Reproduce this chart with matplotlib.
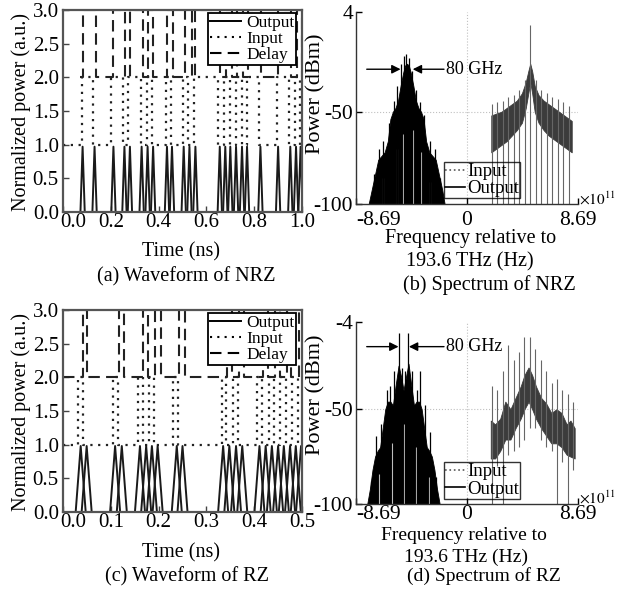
import matplotlib
matplotlib.use('Agg')
import matplotlib.pyplot as plt
import matplotlib.transforms as mtransforms
from matplotlib.lines import Line2D

plt.rcParams['font.family'] = ['Liberation Serif', 'DejaVu Serif']
plt.rcParams['mathtext.fontset'] = 'stix'
plt.rcParams['axes.unicode_minus'] = False

W, H = 622, 597

# ---------------- waveform data (ns) ----------------
# (a) NRZ: output pulse centres, input / delay transition times
a_out_t = [0.082, 0.132, 0.211, 0.257, 0.280, 0.329, 0.354, 0.377, 0.435, 0.456,
           0.505, 0.529, 0.554, 0.656, 0.679, 0.700, 0.724, 0.749, 0.770, 0.826,
           0.900, 0.951, 0.975, 0.994]
a_in_edges = [0.078, 0.127, 0.201, 0.250, 0.273, 0.325, 0.350, 0.371, 0.431, 0.452,
              0.501, 0.524, 0.550, 0.650, 0.674, 0.699, 0.722, 0.748, 0.768, 0.820,
              0.894, 0.947, 0.971, 0.992]
a_dl_start = 0.07
a_dl_edges = [0.083, 0.138, 0.211, 0.259, 0.281, 0.336, 0.357, 0.378, 0.434, 0.462,
              0.510, 0.538, 0.553, 0.657, 0.681, 0.706, 0.729, 0.755, 0.775, 0.827,
              0.901, 0.954, 0.978, 0.999]

# (c) RZ: output pulse centres, input / delay pulse start & end
c_out_t = [0.037, 0.0495, 0.109, 0.123, 0.161, 0.174, 0.186, 0.198, 0.238, 0.250,
           0.335, 0.348, 0.362, 0.375, 0.411, 0.424, 0.437, 0.450, 0.462, 0.475,
           0.487, 0.498]
c_in_start = [0.032, 0.105, 0.156, 0.179, 0.231, 0.332, 0.355, 0.405, 0.430, 0.454, 0.480]
c_in_end = [0.041, 0.116, 0.167, 0.190, 0.241, 0.342, 0.367, 0.417, 0.442, 0.467, 0.492]
c_dl_start = [0.041, 0.117, 0.168, 0.192, 0.243, 0.343, 0.368, 0.418, 0.443, 0.468, 0.493]
c_dl_end = [0.050, 0.128, 0.178, 0.204, 0.255, 0.353, 0.378, 0.428, 0.453, 0.478, 0.503]

# ---------------- spectrum data (x1e11 Hz, dBm) ----------------
b_out_f = [-7.7, -7.45, -7.2, -6.95, -6.7, -6.45, -6.2, -6.0, -5.8, -5.6, -5.4, -5.2,
           -5.0, -4.85, -4.7, -4.55, -4.4, -4.2, -4.0, -3.8, -3.6, -3.4, -3.2, -2.95,
           -2.7, -2.45, -2.2, -1.95, -1.75]
b_out_p = [-100, -92, -84, -76, -74, -72, -66, -54, -50, -48, -44, -36, -29, -25, -24,
           -25, -29, -36, -44, -48, -50, -54, -66, -72, -74, -76, -84, -92, -100]
b_spk_f = [-7.3, -6.9, -6.55, -6.1, -5.75, -5.45, -5.15, -4.95, -4.75, -4.55, -4.3,
           -4.0, -3.7, -3.35, -2.9, -2.5, -2.1]
b_spk_p = [-84, -70, -66, -56, -44, -36, -24, -20, -19, -21, -28, -38, -45, -52, -66,
           -70, -86]
b_gap_f = [-6.6, -5.5, -5.0, -4.2, -3.6, -2.9]
b_gap_p = [-86, -70, -62, -60, -72, -88]
b_in_f = [1.9, 2.3, 2.7, 3.1, 3.5, 3.9, 4.3, 4.6, 4.8, 4.95, 5.1, 5.3, 5.6, 6.0, 6.4,
          6.8, 7.2, 7.6, 8.0, 8.2]
b_in_hi = [-52, -51, -50, -48, -46, -44, -40, -34, -28, -24, -28, -36, -41, -44, -46,
           -48, -50, -52, -54, -55]
b_in_lo = [-72, -70, -68, -66, -63, -60, -56, -48, -40, -34, -40, -50, -56, -60, -63,
           -65, -67, -69, -71, -72]
b_comb_f = [1.95, 2.38, 2.81, 3.24, 3.67, 4.1, 4.53, 4.97, 5.4, 5.83, 6.26, 6.69, 7.12,
            7.55, 7.98]
b_comb_top = [-46, -45, -44, -42, -41, -38, -33, -3, -33, -38, -40, -42, -43, -45, -47]
b_comb_bot = [-100] * 15

d_out_f = [-7.81, -7.6, -7.4, -7.2, -7.0, -6.8, -6.6, -6.4, -6.2, -6.0, -5.8, -5.6,
           -5.36, -5.15, -4.97, -4.78, -4.58, -4.35, -4.15, -3.95, -3.75, -3.55, -3.35,
           -3.15, -2.95, -2.75, -2.55, -2.35, -2.14]
d_out_p = [-100, -92, -82, -75, -72, -70, -60, -50, -46, -46, -48, -38, -27, -33, -40,
           -33, -26, -38, -48, -46, -46, -50, -60, -70, -72, -75, -82, -92, -100]
d_spk_f = [-7.55, -7.1, -6.7, -6.3, -6.05, -5.7, -5.36, -5.1, -4.85, -4.58, -4.3, -3.9,
           -3.65, -3.3, -2.9, -2.45]
d_spk_p = [-88, -64, -58, -40, -38, -30, -10, -28, -30, -10, -30, -40, -30, -48, -62, -86]
d_gap_f = [-6.9, -5.9, -4.97, -4.0, -3.0]
d_gap_p = [-84, -68, -58, -70, -86]
d_in_f = [1.86, 2.2, 2.6, 3.0, 3.4, 3.8, 4.2, 4.5, 4.82, 5.1, 5.4, 5.8, 6.2, 6.6, 7.0,
          7.4, 7.8, 8.1, 8.43]
d_in_hi = [-56, -58, -55, -46, -50, -44, -38, -32, -28, -32, -38, -44, -47, -52, -50,
           -52, -58, -56, -60]
d_in_lo = [-76, -76, -72, -66, -66, -60, -55, -50, -46, -50, -55, -60, -64, -68, -68,
           -70, -74, -75, -76]
d_comb_f = [1.95, 2.37, 2.8, 3.22, 3.65, 4.07, 4.5, 4.92, 5.35, 5.77, 6.2, 6.62, 7.05,
            7.47, 7.9, 8.3]
d_comb_top = [-38, -40, -30, -16, -24, -20, -12, -12, -18, -24, -30, -36, -34, -40, -42, -46]
d_comb_bot = [-100, -80, -100, -74, -72, -70, -66, -60, -60, -66, -70, -72, -100, -78,
              -100, -82]


def toggle_wave(t0, t1, edges, lo, hi):
    ts, vs = [t0], [lo]
    level = lo
    for e in edges:
        new = hi if level == lo else lo
        ts += [e, e]
        vs += [level, new]
        level = new
    ts.append(t1)
    vs.append(level)
    return ts, vs


def pulse_wave(t0, t1, starts, ends, lo, hi):
    ts, vs = [t0], [lo]
    for s, e in zip(starts, ends):
        ts += [s, s, e, e]
        vs += [lo, hi, hi, lo]
    ts.append(t1)
    vs.append(lo)
    return ts, vs


def axes_px(x0, y0, x1, y1):
    return fig.add_axes([x0 / W, 1 - y1 / H, (x1 - x0) / W, (y1 - y0) / H])


def shift_label(lab, dx, dy):
    lab.set_transform(lab.get_transform() +
                      mtransforms.ScaledTranslation(dx / 100, dy / 100, fig.dpi_scale_trans))


DOT = (0, (1, 2.5))
DASH = (0, (5.5, 3))


def waveform(ax, xmax, xticks, out_t, half, peak, in_wave, dl_wave):
    ax.plot(*in_wave, color='#222222', lw=1.6, ls=DOT)
    ax.plot(*dl_wave, color='#222222', lw=1.5, ls=DASH)
    for c in out_t:
        ax.plot([c - half, c, c + half], [0, peak, 0], color='#1a1a1a', lw=1.4)
    ax.set_xlim(0, xmax)
    ax.set_ylim(0, 3)
    ax.set_xticks(xticks)
    ax.set_xticklabels(['%.1f' % v for v in xticks])
    ax.set_yticks([0, 0.5, 1, 1.5, 2, 2.5, 3])
    ax.set_yticklabels(['0.0', '0.5', '1.0', '1.5', '2.0', '2.5', '3.0'])
    ax.tick_params(direction='in', length=4, width=1, labelsize=15, color='#444444')
    ax.tick_params(axis='x', pad=1)
    ax.tick_params(axis='y', pad=3)
    shift_label(ax.get_xticklabels()[0], 10, 0)
    for s in ax.spines.values():
        s.set_linewidth(1.6)
        s.set_color('#555555')
    hs = [Line2D([], [], color='k', lw=1.4),
          Line2D([], [], color='k', lw=1.5, ls=DOT),
          Line2D([], [], color='k', lw=1.5, ls=DASH)]
    leg = ax.legend(hs, ['Output', 'Input', 'Delay'], loc='upper right',
                    bbox_to_anchor=(0.975, 0.985), fontsize=12.5, handlelength=1.8,
                    handletextpad=0.3, labelspacing=0.0, borderpad=0.1,
                    borderaxespad=0, fancybox=False, framealpha=1, edgecolor='k')
    leg.get_frame().set_linewidth(1.3)


def spectrum(ax, ytop, out_f, out_p, spk_f, spk_p, gap_f, gap_p,
             in_f, in_hi, in_lo, comb_f, comb_top, comb_bot, arr_y, tips, leg_y, xpad):
    ax.axhline(-50, color='#c0c0c0', lw=0.8, ls=':', zorder=0)
    ax.axvline(0, color='#c0c0c0', lw=0.8, ls=':', zorder=0)
    ax.vlines(comb_f, comb_bot, comb_top, color='#666666', lw=0.8)
    ax.fill_between(in_f, in_lo, in_hi, color='#3c3c3c', lw=0.6)
    ax.fill_between(out_f, -100, out_p, color='k', lw=0.6)
    ax.vlines(gap_f, -100, gap_p, color='#bdbdbd', lw=0.8)
    ax.vlines(spk_f, -100, spk_p, color='k', lw=0.9)
    ap = dict(arrowstyle='-|>', color='k', lw=1.0, mutation_scale=13,
              shrinkA=0, shrinkB=0)
    ax.annotate('', xy=(tips[0], arr_y), xytext=(-7.85, arr_y), arrowprops=ap)
    ax.annotate('', xy=(tips[1], arr_y), xytext=(-1.8, arr_y), arrowprops=ap)
    ax.text(-1.65, arr_y, '80 GHz', fontsize=13, ha='left', va='center')
    ax.set_xlim(-8.69, 8.69)
    ax.set_ylim(-100, ytop)
    ax.set_xticks([-8.69, 0, 8.69])
    ax.set_xticklabels(['-8.69', '0', '8.69'])
    ax.get_xticklabels()[0].set_ha('left')
    ax.set_yticks([-100, -50, ytop])
    ax.set_yticklabels(['-100', '-50', '%d' % ytop])
    ax.tick_params(direction='in', length=4, width=1, labelsize=15.5)
    ax.tick_params(axis='x', pad=xpad)
    ax.tick_params(axis='y', pad=2)
    ax.spines['top'].set_visible(False)
    ax.spines['right'].set_visible(False)
    for s in ('left', 'bottom'):
        ax.spines[s].set_linewidth(1.0)
        ax.spines[s].set_color('#333333')
    hs = [Line2D([], [], color='#555555', lw=1.2, ls=':'),
          Line2D([], [], color='k', lw=1.2)]
    leg = ax.legend(hs, ['Input', 'Output'], loc='lower left',
                    bbox_to_anchor=(0.396, leg_y), fontsize=13.5, handlelength=1.1,
                    handletextpad=0.1, labelspacing=0.0, borderpad=0.05,
                    borderaxespad=0, fancybox=False, edgecolor='k')
    leg.get_frame().set_facecolor('none')
    leg.get_frame().set_linewidth(1.0)


fig = plt.figure(figsize=(W / 100, H / 100), dpi=100)
fig.patch.set_facecolor('white')

ax_a = axes_px(63, 10, 302, 212)
waveform(ax_a, 1.0, [0, 0.2, 0.4, 0.6, 0.8, 1.0], a_out_t, 0.009, 0.97,
         toggle_wave(0, 1.0, a_in_edges, 1, 2),
         toggle_wave(a_dl_start, 1.0, a_dl_edges, 2, 3))

ax_c = axes_px(63, 310, 302, 512)
waveform(ax_c, 0.5, [0, 0.1, 0.2, 0.3, 0.4, 0.5], c_out_t, 0.0105, 0.98,
         pulse_wave(0, 0.5, c_in_start, c_in_end, 1, 2),
         pulse_wave(0, 0.5, c_dl_start, c_dl_end, 2, 3))

ax_b = axes_px(356, 12, 578, 204)
spectrum(ax_b, 4, b_out_f, b_out_p, b_spk_f, b_spk_p, b_gap_f, b_gap_p,
         b_in_f, b_in_hi, b_in_lo, b_comb_f, b_comb_top, b_comb_bot,
         -27, (-5.2, -4.25), 0.03, 5)

ax_d = axes_px(356, 322, 578, 504)
spectrum(ax_d, -4, d_out_f, d_out_p, d_spk_f, d_spk_p, d_gap_f, d_gap_p,
         d_in_f, d_in_hi, d_in_lo, d_comb_f, d_comb_top, d_comb_bot,
         -17, (-5.36, -4.55), 0.03, 1)


def ftext(x, y, s, **kw):
    kw.setdefault('fontsize', 14.5)
    fig.text(x / W, 1 - y / H, s, ha=kw.pop('ha', 'center'), va=kw.pop('va', 'center'), **kw)


ftext(21, 112, 'Normalized power (a.u.)', rotation=90)
ftext(21, 412, 'Normalized power (a.u.)', rotation=90)
ftext(181, 252, 'Time (ns)')
ftext(181, 553, 'Time (ns)')
ftext(186, 277, '(a) Waveform of NRZ')
ftext(187, 577, '(c) Waveform of RZ')

ftext(316, 94, 'Power (dBm)', rotation=90, fontsize=16)
ftext(316, 395, 'Power (dBm)', rotation=90, fontsize=16)
ftext(471, 239, 'Frequency relative to')
ftext(470, 262, '193.6 THz (Hz)')
ftext(489, 285, '(b) Spectrum of NRZ')
ftext(464, 536, 'Frequency relative to', fontsize=14)
ftext(466, 557, '193.6 THz (Hz)', fontsize=14)
ftext(484, 576, '(d) Spectrum of RZ', fontsize=14)
ftext(579, 199, r'$\times10^{11}$', fontsize=11, ha='left')
ftext(579, 498, r'$\times10^{11}$', fontsize=11, ha='left')

fig.savefig('out.png', dpi=100)
